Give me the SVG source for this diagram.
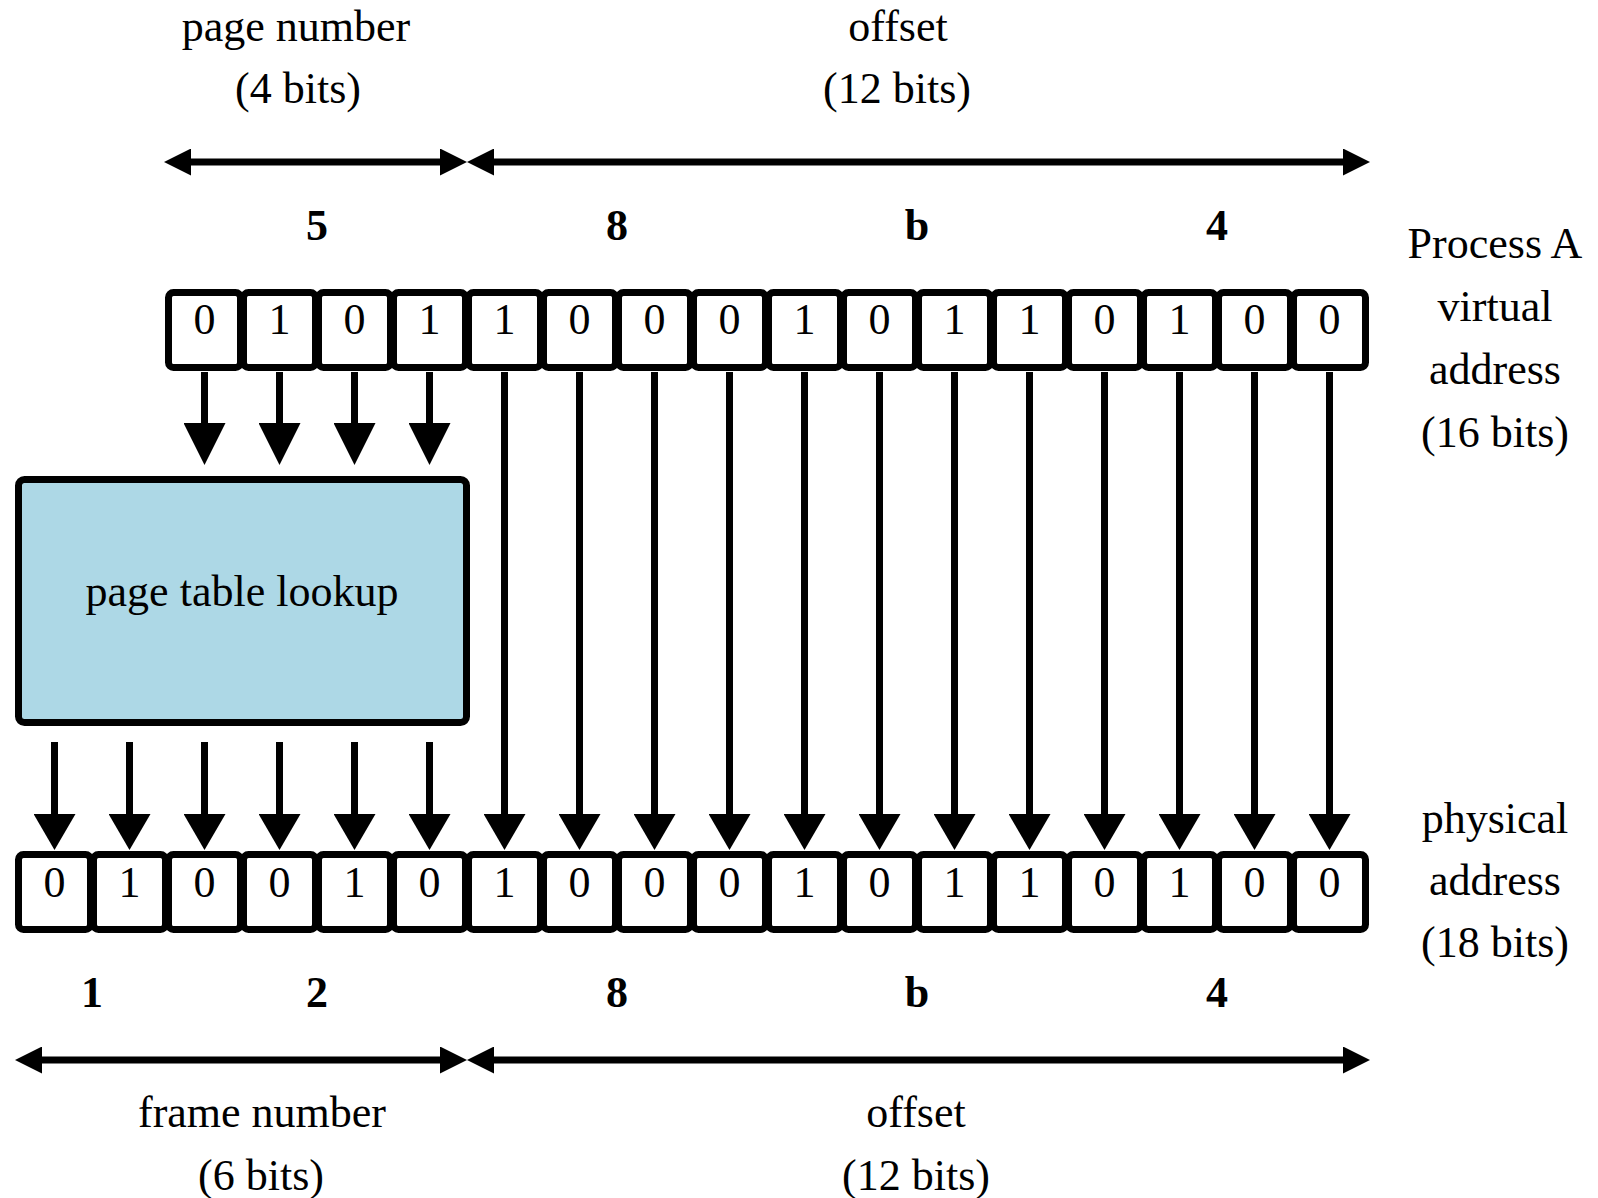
<svg xmlns="http://www.w3.org/2000/svg" width="1598" height="1198" viewBox="0 0 1598 1198">
<defs>
<style>
text{font-family:"Liberation Serif","Times New Roman",serif;font-size:44px;fill:#000;text-anchor:middle}
.hex{font-weight:bold}
.bit rect{fill:#fff;stroke:#000;stroke-width:7}
.ln{stroke:#000;stroke-width:7;fill:none}
</style>
<marker id="hv" markerUnits="userSpaceOnUse" viewBox="0 0 36 42" refX="1" refY="21" markerWidth="36" markerHeight="42" orient="auto"><path d="M0,0 L36,21 L0,42 Z" fill="#000"/></marker>
<marker id="hvl" markerUnits="userSpaceOnUse" viewBox="0 0 42 42" refX="1" refY="21" markerWidth="42" markerHeight="42" orient="auto"><path d="M0,0 L42,21 L0,42 Z" fill="#000"/></marker>
<marker id="hh" markerUnits="userSpaceOnUse" viewBox="0 0 27 27" refX="1" refY="13.5" markerWidth="27" markerHeight="27" orient="auto-start-reverse"><path d="M0,0 L27,13.5 L0,27 Z" fill="#000"/></marker>
</defs>
<rect width="1598" height="1198" fill="#fff"/>

<g id="labels-top">
<text x="296" y="41">page number</text>
<text x="298" y="103">(4 bits)</text>
<text x="898" y="41">offset</text>
<text x="897" y="103">(12 bits)</text>
<text class="hex" x="317" y="240">5</text>
<text class="hex" x="617" y="240">8</text>
<text class="hex" x="917" y="240">b</text>
<text class="hex" x="1217" y="240">4</text>
</g>
<g id="label-virtual">
<text x="1495" y="258">Process A</text>
<text x="1495" y="321">virtual</text>
<text x="1495" y="384">address</text>
<text x="1495" y="447">(16 bits)</text>
</g>
<g id="label-physical">
<text x="1495" y="833">physical</text>
<text x="1495" y="895">address</text>
<text x="1495" y="957">(18 bits)</text>
</g>
<g id="labels-bottom">
<text class="hex" x="92" y="1007">1</text>
<text class="hex" x="317" y="1007">2</text>
<text class="hex" x="617" y="1007">8</text>
<text class="hex" x="917" y="1007">b</text>
<text class="hex" x="1217" y="1007">4</text>
<text x="262" y="1127">frame number</text>
<text x="261" y="1190">(6 bits)</text>
<text x="916" y="1127">offset</text>
<text x="916" y="1190">(12 bits)</text>
</g>

<g id="connectors">
<line class="ln" x1="190" y1="162" x2="441" y2="162" marker-start="url(#hh)" marker-end="url(#hh)"/>
<line class="ln" x1="493" y1="162" x2="1344" y2="162" marker-start="url(#hh)" marker-end="url(#hh)"/>
<line class="ln" x1="41" y1="1060" x2="441" y2="1060" marker-start="url(#hh)" marker-end="url(#hh)"/>
<line class="ln" x1="493" y1="1060" x2="1344" y2="1060" marker-start="url(#hh)" marker-end="url(#hh)"/>
<line class="ln" x1="204.5" y1="372" x2="204.5" y2="424" marker-end="url(#hvl)"/>
<line class="ln" x1="279.5" y1="372" x2="279.5" y2="424" marker-end="url(#hvl)"/>
<line class="ln" x1="354.5" y1="372" x2="354.5" y2="424" marker-end="url(#hvl)"/>
<line class="ln" x1="429.5" y1="372" x2="429.5" y2="424" marker-end="url(#hvl)"/>
<line class="ln" x1="54.5" y1="742" x2="54.5" y2="815" marker-end="url(#hv)"/>
<line class="ln" x1="129.5" y1="742" x2="129.5" y2="815" marker-end="url(#hv)"/>
<line class="ln" x1="204.5" y1="742" x2="204.5" y2="815" marker-end="url(#hv)"/>
<line class="ln" x1="279.5" y1="742" x2="279.5" y2="815" marker-end="url(#hv)"/>
<line class="ln" x1="354.5" y1="742" x2="354.5" y2="815" marker-end="url(#hv)"/>
<line class="ln" x1="429.5" y1="742" x2="429.5" y2="815" marker-end="url(#hv)"/>
<line class="ln" x1="504.5" y1="372" x2="504.5" y2="815" marker-end="url(#hv)"/>
<line class="ln" x1="579.5" y1="372" x2="579.5" y2="815" marker-end="url(#hv)"/>
<line class="ln" x1="654.5" y1="372" x2="654.5" y2="815" marker-end="url(#hv)"/>
<line class="ln" x1="729.5" y1="372" x2="729.5" y2="815" marker-end="url(#hv)"/>
<line class="ln" x1="804.5" y1="372" x2="804.5" y2="815" marker-end="url(#hv)"/>
<line class="ln" x1="879.5" y1="372" x2="879.5" y2="815" marker-end="url(#hv)"/>
<line class="ln" x1="954.5" y1="372" x2="954.5" y2="815" marker-end="url(#hv)"/>
<line class="ln" x1="1029.5" y1="372" x2="1029.5" y2="815" marker-end="url(#hv)"/>
<line class="ln" x1="1104.5" y1="372" x2="1104.5" y2="815" marker-end="url(#hv)"/>
<line class="ln" x1="1179.5" y1="372" x2="1179.5" y2="815" marker-end="url(#hv)"/>
<line class="ln" x1="1254.5" y1="372" x2="1254.5" y2="815" marker-end="url(#hv)"/>
<line class="ln" x1="1329.5" y1="372" x2="1329.5" y2="815" marker-end="url(#hv)"/>
</g>

<g id="page-table">
<rect x="18.5" y="479.5" width="448" height="243" rx="6" fill="#ADD8E6" stroke="#000" stroke-width="7"/>
<text x="242" y="606">page table lookup</text>
</g>

<g id="virtual-address">
<g class="bit" id="v0"><rect x="168.5" y="292.5" width="72" height="75" rx="5"/><text x="204.5" y="334">0</text></g>
<g class="bit" id="v1"><rect x="243.5" y="292.5" width="72" height="75" rx="5"/><text x="279.5" y="334">1</text></g>
<g class="bit" id="v2"><rect x="318.5" y="292.5" width="72" height="75" rx="5"/><text x="354.5" y="334">0</text></g>
<g class="bit" id="v3"><rect x="393.5" y="292.5" width="72" height="75" rx="5"/><text x="429.5" y="334">1</text></g>
<g class="bit" id="v4"><rect x="468.5" y="292.5" width="72" height="75" rx="5"/><text x="504.5" y="334">1</text></g>
<g class="bit" id="v5"><rect x="543.5" y="292.5" width="72" height="75" rx="5"/><text x="579.5" y="334">0</text></g>
<g class="bit" id="v6"><rect x="618.5" y="292.5" width="72" height="75" rx="5"/><text x="654.5" y="334">0</text></g>
<g class="bit" id="v7"><rect x="693.5" y="292.5" width="72" height="75" rx="5"/><text x="729.5" y="334">0</text></g>
<g class="bit" id="v8"><rect x="768.5" y="292.5" width="72" height="75" rx="5"/><text x="804.5" y="334">1</text></g>
<g class="bit" id="v9"><rect x="843.5" y="292.5" width="72" height="75" rx="5"/><text x="879.5" y="334">0</text></g>
<g class="bit" id="v10"><rect x="918.5" y="292.5" width="72" height="75" rx="5"/><text x="954.5" y="334">1</text></g>
<g class="bit" id="v11"><rect x="993.5" y="292.5" width="72" height="75" rx="5"/><text x="1029.5" y="334">1</text></g>
<g class="bit" id="v12"><rect x="1068.5" y="292.5" width="72" height="75" rx="5"/><text x="1104.5" y="334">0</text></g>
<g class="bit" id="v13"><rect x="1143.5" y="292.5" width="72" height="75" rx="5"/><text x="1179.5" y="334">1</text></g>
<g class="bit" id="v14"><rect x="1218.5" y="292.5" width="72" height="75" rx="5"/><text x="1254.5" y="334">0</text></g>
<g class="bit" id="v15"><rect x="1293.5" y="292.5" width="72" height="75" rx="5"/><text x="1329.5" y="334">0</text></g>
</g>

<g id="physical-address">
<g class="bit" id="p0"><rect x="18.5" y="854.5" width="72" height="75" rx="5"/><text x="54.5" y="897">0</text></g>
<g class="bit" id="p1"><rect x="93.5" y="854.5" width="72" height="75" rx="5"/><text x="129.5" y="897">1</text></g>
<g class="bit" id="p2"><rect x="168.5" y="854.5" width="72" height="75" rx="5"/><text x="204.5" y="897">0</text></g>
<g class="bit" id="p3"><rect x="243.5" y="854.5" width="72" height="75" rx="5"/><text x="279.5" y="897">0</text></g>
<g class="bit" id="p4"><rect x="318.5" y="854.5" width="72" height="75" rx="5"/><text x="354.5" y="897">1</text></g>
<g class="bit" id="p5"><rect x="393.5" y="854.5" width="72" height="75" rx="5"/><text x="429.5" y="897">0</text></g>
<g class="bit" id="p6"><rect x="468.5" y="854.5" width="72" height="75" rx="5"/><text x="504.5" y="897">1</text></g>
<g class="bit" id="p7"><rect x="543.5" y="854.5" width="72" height="75" rx="5"/><text x="579.5" y="897">0</text></g>
<g class="bit" id="p8"><rect x="618.5" y="854.5" width="72" height="75" rx="5"/><text x="654.5" y="897">0</text></g>
<g class="bit" id="p9"><rect x="693.5" y="854.5" width="72" height="75" rx="5"/><text x="729.5" y="897">0</text></g>
<g class="bit" id="p10"><rect x="768.5" y="854.5" width="72" height="75" rx="5"/><text x="804.5" y="897">1</text></g>
<g class="bit" id="p11"><rect x="843.5" y="854.5" width="72" height="75" rx="5"/><text x="879.5" y="897">0</text></g>
<g class="bit" id="p12"><rect x="918.5" y="854.5" width="72" height="75" rx="5"/><text x="954.5" y="897">1</text></g>
<g class="bit" id="p13"><rect x="993.5" y="854.5" width="72" height="75" rx="5"/><text x="1029.5" y="897">1</text></g>
<g class="bit" id="p14"><rect x="1068.5" y="854.5" width="72" height="75" rx="5"/><text x="1104.5" y="897">0</text></g>
<g class="bit" id="p15"><rect x="1143.5" y="854.5" width="72" height="75" rx="5"/><text x="1179.5" y="897">1</text></g>
<g class="bit" id="p16"><rect x="1218.5" y="854.5" width="72" height="75" rx="5"/><text x="1254.5" y="897">0</text></g>
<g class="bit" id="p17"><rect x="1293.5" y="854.5" width="72" height="75" rx="5"/><text x="1329.5" y="897">0</text></g>
</g>
</svg>
